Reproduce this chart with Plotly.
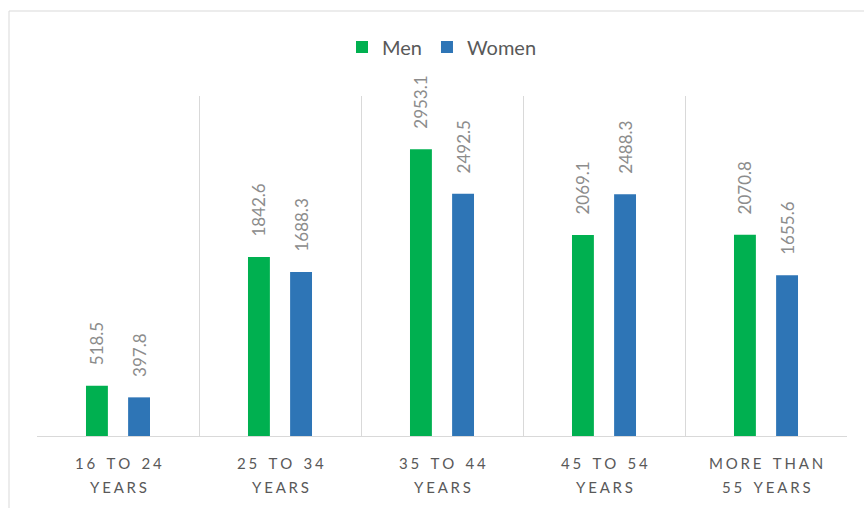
import plotly.graph_objects as go

categories = ["16 TO 24 YEARS", "25 TO 34 YEARS", "35 TO 44 YEARS", "45 TO 54 YEARS", "MORE THAN 55 YEARS"]
label_line1 = ["16 TO 24", "25 TO 34", "35 TO 44", "45 TO 54", "MORE THAN"]
label_line2 = ["YEARS", "YEARS", "YEARS", "YEARS", "55 YEARS"]
men = [518.5, 1842.6, 2953.1, 2069.1, 2070.8]
women = [397.8, 1688.3, 2492.5, 2488.3, 1655.6]

FONT = "Lato"
GREEN = "#00B050"
BLUE = "#2E75B6"


def spaced(s, sep="\u2009\u200a"):
    out = []
    for ch in s:
        out.append("\u00a0\u2009" if ch == " " else ch)
    return sep.join(out)


def lbl(v):
    return "\u00a0" * 4 + f"{v:.1f}"


fig = go.Figure()
for name, vals, col in [("Men", men, GREEN), ("Women", women, BLUE)]:
    fig.add_trace(go.Bar(
        x=categories, y=vals, name=name, marker_color=col,
        marker_line_width=0,
        text=[lbl(v) for v in vals], textposition="outside", textangle=-90,
        textfont=dict(family=FONT, size=17, color="#8C8C8C"),
        cliponaxis=False, constraintext="none",
    ))

W, H = 864, 508
L, R, T, B = 37, 864 - 847, 96, 508 - 436
ph = H - T - B
pw = W - L - R

fig.update_layout(
    width=W, height=H,
    margin=dict(l=L, r=R, t=T, b=B),
    paper_bgcolor="white", plot_bgcolor="white",
    barmode="group", bargap=0.48, bargroupgap=0.48,
    font=dict(family=FONT, color="#595959"),
    showlegend=True,
    legend=dict(orientation="h", x=0.5, xanchor="center", y=(436 - 47) / ph, yanchor="middle",
                font=dict(family=FONT, size=20, color="#595959"),
                traceorder="normal"),
    xaxis=dict(type="category", tickson="boundaries", showgrid=True, gridcolor="#D9D9D9", gridwidth=1,
               showticklabels=False, ticks="", showline=True, linecolor="#D9D9D9", linewidth=1,
               zeroline=False),
    yaxis=dict(range=[0, 3500], showgrid=False, showticklabels=False, zeroline=False, showline=False),
)

for c, l1, l2 in zip(categories, label_line1, label_line2):
    fig.add_annotation(x=c, xref="x", y=(436 - 463) / ph, yref="paper", text=spaced(l1), showarrow=False,
                       font=dict(family=FONT, size=15, color="#595959"), yanchor="middle")
    fig.add_annotation(x=c, xref="x", y=(436 - 487) / ph, yref="paper", text=spaced(l2), showarrow=False,
                       font=dict(family=FONT, size=15, color="#595959"), yanchor="middle")

# outer chart border
fig.add_shape(type="rect", xref="paper", yref="paper",
              x0=(9 - L) / pw, x1=(880 - L) / pw, y0=-0.5, y1=(436 - 11) / ph,
              line=dict(color="#D9D9D9", width=1), layer="below")

fig.write_html("out.html")
